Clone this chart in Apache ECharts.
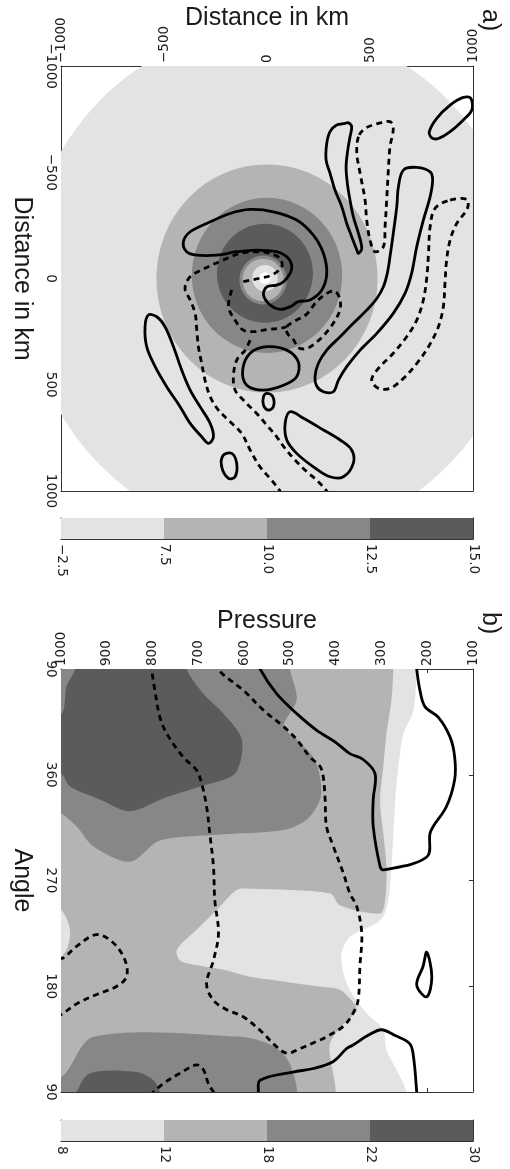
<!DOCTYPE html>
<html><head><meta charset="utf-8">
<script src="https://cdn.jsdelivr.net/npm/echarts@6/dist/echarts.min.js"></script>
<style>html,body{margin:0;padding:0;background:#fff}#c{width:510px;height:1169px}</style>
</head><body><div id="c"></div><script>
// ---------------- DATA ----------------
// Panel a: distance axes (km)
const distRange = [-1000, 1000];
const distStep = 500;
// filled rings: [centerX, centerY, radius] (km) and their colour level (-1 = white)
const diskRings = [[35,20,1205],[0,0,537],[0,-15,365],[-10,-25,233],[-19,7,115],[-19,7,100],[-10,-2,62],[-10,-2,28]];
const diskLevel = [0,1,2,3,2,1,0,-1];
// solid contours (closed loops), km
const aSolidLoops = [
  [[788,-691],[824,-754],[889,-816],[953,-852],[989,-848],[994,-793],[953,-746],[889,-691],[832,-659],[800,-662]],
  [[379,-730],[338,-722],[306,-691],[290,-636],[287,-557],[306,-495],[330,-416],[363,-338],[387,-259],[411,-197],[436,-134],[444,-118],[460,-142],[444,-212],[419,-291],[403,-369],[390,-448],[384,-526],[392,-604],[403,-667],[411,-714],[395,-733]],
  [[662,-510],[727,-523],[792,-502],[804,-463],[792,-385],[759,-275],[727,-150],[702,-24],[670,70],[613,164],[533,258],[452,337],[387,415],[347,478],[322,533],[274,533],[241,506],[233,462],[249,400],[290,337],[355,274],[419,211],[484,149],[533,94],[565,39],[584,-24],[597,-102],[613,-212],[630,-338],[638,-432]],
  [[-406,-173],[-373,-220],[-293,-259],[-179,-306],[-82,-325],[31,-314],[144,-275],[225,-204],[274,-118],[290,-24],[266,54],[209,101],[152,109],[112,133],[63,145],[15,125],[-17,78],[-1,39],[47,31],[80,15],[112,-24],[120,-63],[96,-102],[47,-126],[-50,-134],[-147,-126],[-244,-110],[-341,-110],[-390,-126]],
  [[-82,352],[-1,321],[96,337],[152,392],[144,462],[80,502],[-17,525],[-98,502],[-118,431]],
  [[-1,541],[28,556],[31,603],[7,619],[-17,596],[-17,556]],
  [[112,627],[177,658],[274,713],[355,760],[411,807],[419,870],[371,933],[306,933],[225,886],[144,823],[96,760],[88,682]],
  [[-212,831],[-171,823],[-147,870],[-155,933],[-187,941],[-220,886]],
  [[-576,172],[-535,180],[-495,227],[-454,321],[-414,431],[-373,525],[-325,603],[-276,682],[-260,745],[-284,776],[-317,745],[-373,682],[-422,603],[-487,509],[-543,415],[-584,321],[-592,227]]
];
// dashed contours (closed loops), km
const aDashLoops = [
  [[444,-667],[436,-589],[452,-495],[476,-369],[484,-275],[500,-181],[524,-126],[565,-150],[573,-244],[581,-369],[589,-510],[597,-620],[613,-706],[597,-738],[541,-730],[476,-706]],
  [[889,-369],[970,-372],[973,-330],[921,-259],[889,-181],[872,-87],[864,23],[856,133],[832,227],[784,321],[727,400],[662,470],[597,517],[541,517],[508,478],[541,423],[613,352],[678,274],[727,196],[759,101],[776,-8],[784,-118],[792,-244],[816,-330]],
  [[96,227],[135,200],[190,170],[240,110],[290,70],[330,60],[355,100],[350,160],[300,240],[240,300],[190,330],[150,325],[130,290],[100,260]]
];
// dashed contours (open lines), km
const aDashOpen = [
  [[-115,15],[-42,0],[23,-16],[71,-55],[63,-95],[15,-118],[-50,-126],[-131,-118],[-212,-87],[-301,-48],[-373,-8],[-398,47],[-373,101],[-349,164],[-341,243],[-333,321],[-317,400],[-301,478],[-276,556],[-236,619],[-179,674],[-123,729],[-82,807],[-34,886],[15,941],[63,1000],[75,1030]],
  [[-171,54],[-187,133],[-155,196],[-115,243],[-60,250],[0,240],[60,235],[96,227]],
  [[-82,290],[-106,337],[-147,384],[-163,462],[-155,525],[-115,572],[-50,635],[-1,690],[47,745],[88,800],[136,854],[193,909],[241,949],[290,1000],[305,1030]]
];

// Panel b: pressure (hPa) and angle (deg)
const presRange = [100, 1000];
const presStep = 100;
const angleRange = [90, 450];
const angleStep = 90;
// filled regions: [pressure, angle]
const bFill8 = [[1050,460],[223,460],[223,450],[230,415],[252,395],[263,367],[270,338],[274,310],[278,282],[285,253],[303,236],[369,222],[387,208],[383,191],[365,174],[332,157],[296,143],[289,126],[267,109],[245,90],[245,80],[1050,80]];
const bFill12 = [[1050,460],[274,460],[274,450],[278,424],[289,395],[296,367],[303,338],[296,310],[289,282],[292,253],[303,242],[391,249],[412,259],[587,263],[616,262],[660,245],[704,228],[747,211],[740,202],[704,198],[645,194],[587,188],[514,184],[442,180],[398,178],[380,174],[354,160],[390,145],[413,130],[413,80],[1050,80]];
const bFill8edge = [[1012,250],[1001,246],[986,236],[980,225],[987,212],[1001,204],[1012,200]];
const bFill18a = [[1050,460],[500,460],[500,450],[485,424],[514,401],[485,390],[449,375],[434,358],[434,339],[463,322],[514,313],[660,309],[784,304],[849,286],[929,299],[966,316],[1001,327],[1050,330]];
const bFill18b = [[1050,103],[998,103],[929,137],[609,137],[536,129],[500,114],[493,85],[1050,85]];
const bFill22a = [[1050,412],[999,412],[988,435],[969,450],[969,460],[726,460],[726,450],[689,429],[645,412],[605,390],[620,361],[696,350],[769,341],[849,329],[915,339],[980,350],[1001,361],[1050,361]];
const bFill22b = [[966,85],[966,90],[937,106],[835,107],[798,100],[784,90],[784,85]];
const bFills = [bFill8, bFill12, bFill8edge, bFill18a, bFill18b, bFill22a, bFill22b];
const bFillLevel = [0,1,0,2,2,3,3];
const bSolidOpen = [
  [[565,455],[565,450],[529,429],[485,412],[442,398],[398,387],[369,378],[340,373],[314,361],[318,339],[318,316],[303,282],[296,279],[201,290],[194,310],[187,316],[158,333],[140,356],[140,375],[150,392],[176,409],[205,418],[216,432],[223,450],[223,455]],
  [[569,85],[569,90],[565,100],[493,107],[449,110],[405,116],[376,127],[362,130],[330,138],[300,143],[270,138],[238,131],[230,120],[223,90],[223,85]]
];
const bSolidLoops = [
  [[201,209],[190,188],[201,171],[223,181],[209,197]]
];
const bDashOpen = [
  [[802,455],[802,450],[795,432],[784,409],[769,395],[733,375],[704,364],[693,353],[682,333],[675,310],[667,282],[664,253],[656,225],[667,202],[682,182],[667,168],[638,160],[602,154],[558,140],[536,131],[507,123],[478,127],[442,133],[420,137],[383,146],[362,157],[351,168],[347,197],[343,225],[354,248],[369,259],[383,276],[405,299],[420,316],[423,339],[427,358],[434,367],[456,375],[485,390],[514,401],[558,415],[602,432],[645,445],[656,450],[656,455]],
  [[1005,205],[995,204],[966,214],[922,224],[886,217],[860,202],[857,188],[878,180],[922,173],[966,165],[995,157],[1005,155]],
  [[805,87],[798,90],[777,97],[740,106],[704,113],[689,109],[678,97],[667,90],[663,87]]
];

// Colour bars
const cbALabels = ['\u22122.5','7.5','10.0','12.5','15.0'];
const cbBLabels = ['8','12','18','22','30'];
const cbLevels = [0,1,2,3];

// ---------------- STYLE ----------------
const grays = ['#e3e3e3','#b4b4b4','#878787','#5b5b5b'];
const levelColor = l => l < 0 ? '#ffffff' : grays[l];
const TICKF = 'DejaVu Sans', TITLEF = 'Liberation Sans';
const INK = '#1a1a1a', FRAME = '#333';
const minusFmt = v => (v < 0 ? '\u2212' + (-v) : '' + v);
const plainFmt = v => '' + v;
// axis index of each panel's main axes
const AX_A = 0, AX_B = 2, AX_CA = 4, AX_CB = 6;

const chart = echarts.init(document.getElementById('c'), null, {renderer: 'canvas'});

function frameAxis(grid, pos, extra) {
  return Object.assign({
    gridIndex: grid, type: 'value', position: pos,
    axisLine: {show: true, onZero: false, lineStyle: {color: FRAME, width: 1}},
    axisTick: {show: true, inside: true, length: 4, lineStyle: {color: FRAME}},
    axisLabel: {show: false}, splitLine: {show: false}, nameMoveOverlap: false
  }, extra);
}
function tickLabel(extra) {
  return Object.assign({show: true, rotate: -90, fontFamily: TICKF, fontSize: 13.5, color: '#222'}, extra);
}
const nameStyle = {fontFamily: TITLEF, fontSize: 25, color: INK};

const gridBase = {containLabel: false, outerBoundsMode: 'none'};
const grids = [
  Object.assign({left: 61, top: 66, width: 412, height: 425}, gridBase),
  Object.assign({left: 61, top: 669, width: 412, height: 423}, gridBase),
  Object.assign({left: 61, top: 518, width: 412, height: 21}, gridBase),
  Object.assign({left: 61, top: 1120, width: 412, height: 21}, gridBase)
];

const xAxes = [
  frameAxis(0, 'top', {min: distRange[0], max: distRange[1], interval: distStep,
    axisLabel: tickLabel({margin: 3, formatter: minusFmt}),
    name: 'Distance in km', nameLocation: 'middle', nameGap: 35, nameTextStyle: nameStyle}),
  frameAxis(0, 'bottom', {min: distRange[0], max: distRange[1], interval: distStep}),
  frameAxis(1, 'top', {min: presRange[0], max: presRange[1], interval: presStep, inverse: true,
    axisLabel: tickLabel({margin: 3, formatter: plainFmt}),
    name: 'Pressure', nameLocation: 'middle', nameGap: 35, nameTextStyle: nameStyle}),
  frameAxis(1, 'bottom', {min: presRange[0], max: presRange[1], interval: presStep, inverse: true}),
  frameAxis(2, 'bottom', {min: 0, max: 4, interval: 1,
    axisLabel: tickLabel({margin: 5, formatter: v => cbALabels[v]})}),
  frameAxis(2, 'top', {min: 0, max: 4, interval: 1, axisTick: {show: false}}),
  frameAxis(3, 'bottom', {min: 0, max: 4, interval: 1,
    axisLabel: tickLabel({margin: 5, formatter: v => cbBLabels[v]})}),
  frameAxis(3, 'top', {min: 0, max: 4, interval: 1, axisTick: {show: false}})
];
const yAxes = [
  frameAxis(0, 'left', {min: distRange[0], max: distRange[1], interval: distStep, inverse: true,
    axisLabel: tickLabel({margin: 4, formatter: minusFmt}),
    name: 'Distance in km', nameLocation: 'middle', nameGap: 27, nameRotate: -90, nameTextStyle: nameStyle}),
  frameAxis(0, 'right', {min: distRange[0], max: distRange[1], interval: distStep, inverse: true}),
  frameAxis(1, 'left', {min: angleRange[0], max: angleRange[1], interval: angleStep,
    axisLabel: tickLabel({margin: 4, formatter: v => '' + (v > 360 ? v - 360 : v)}),
    name: 'Angle', nameLocation: 'middle', nameGap: 27, nameRotate: -90, nameTextStyle: nameStyle}),
  frameAxis(1, 'right', {min: angleRange[0], max: angleRange[1], interval: angleStep}),
  frameAxis(2, 'left', {min: 0, max: 1, axisTick: {show: false}}),
  frameAxis(2, 'right', {min: 0, max: 1, axisTick: {show: false}}),
  frameAxis(3, 'left', {min: 0, max: 1, axisTick: {show: false}}),
  frameAxis(3, 'right', {min: 0, max: 1, axisTick: {show: false}})
];

function custom(ax, items, z, draw) {
  return {
    type: 'custom', coordinateSystem: 'cartesian2d', xAxisIndex: ax, yAxisIndex: ax,
    clip: true, silent: true, z: z, animation: false,
    data: items.map((_, i) => [i]),
    renderItem: (params, api) => draw(items[params.dataIndex], params.dataIndex, api)
  };
}
function fillPolys(ax, polys, levels, z) {
  return custom(ax, polys, z, (poly, i, api) => ({
    type: 'polygon', shape: {points: poly.map(p => api.coord(p)), smooth: 0.3},
    style: {fill: levelColor(levels[i]), stroke: null}
  }));
}
function lineSeries(ax, list, closed, dashed, z) {
  return custom(ax, list, z, (pts, i, api) => ({
    type: closed ? 'polygon' : 'polyline',
    shape: {points: pts.map(p => api.coord(p)), smooth: 0.35},
    style: {fill: 'none', stroke: '#000', lineWidth: 2.8, lineDash: dashed ? [6, 4.5] : null, lineCap: 'butt', lineJoin: 'round'}
  }));
}
const ringSeries = custom(AX_A, diskRings, 1, (d, i, api) => {
  const c = api.coord([d[0], d[1]]);
  const s = api.size([d[2], d[2]]);
  return {type: 'circle', x: c[0], y: c[1], scaleY: s[1] / s[0], shape: {cx: 0, cy: 0, r: s[0]},
    style: {fill: levelColor(diskLevel[i]), stroke: null}};
});
function colorbar(ax) {
  return custom(ax, cbLevels, 1, (l, i, api) => {
    const p0 = api.coord([i, 1]), p1 = api.coord([i + 1, 0]);
    return {type: 'rect', shape: {x: p0[0], y: p0[1], width: p1[0] - p0[0], height: p1[1] - p0[1]},
      style: {fill: levelColor(l), stroke: null}};
  });
}

const option = {
  animation: false,
  backgroundColor: '#ffffff',
  grid: grids,
  xAxis: xAxes,
  yAxis: yAxes,
  graphic: [
    {type: 'text', x: 490, y: 9, rotation: -Math.PI / 2, style: {text: 'a)', fontFamily: TITLEF, fontSize: 25, fill: INK, align: 'left', verticalAlign: 'middle'}},
    {type: 'text', x: 490, y: 612, rotation: -Math.PI / 2, style: {text: 'b)', fontFamily: TITLEF, fontSize: 25, fill: INK, align: 'left', verticalAlign: 'middle'}}
  ],
  series: [
    ringSeries,
    lineSeries(AX_A, aSolidLoops, true, false, 5),
    lineSeries(AX_A, aDashLoops, true, true, 5),
    lineSeries(AX_A, aDashOpen, false, true, 5),
    fillPolys(AX_B, bFills, bFillLevel, 1),
    lineSeries(AX_B, bSolidOpen, false, false, 5),
    lineSeries(AX_B, bSolidLoops, true, false, 5),
    lineSeries(AX_B, bDashOpen, false, true, 5),
    colorbar(AX_CA),
    colorbar(AX_CB)
  ]
};
chart.setOption(option);
</script></body></html>
